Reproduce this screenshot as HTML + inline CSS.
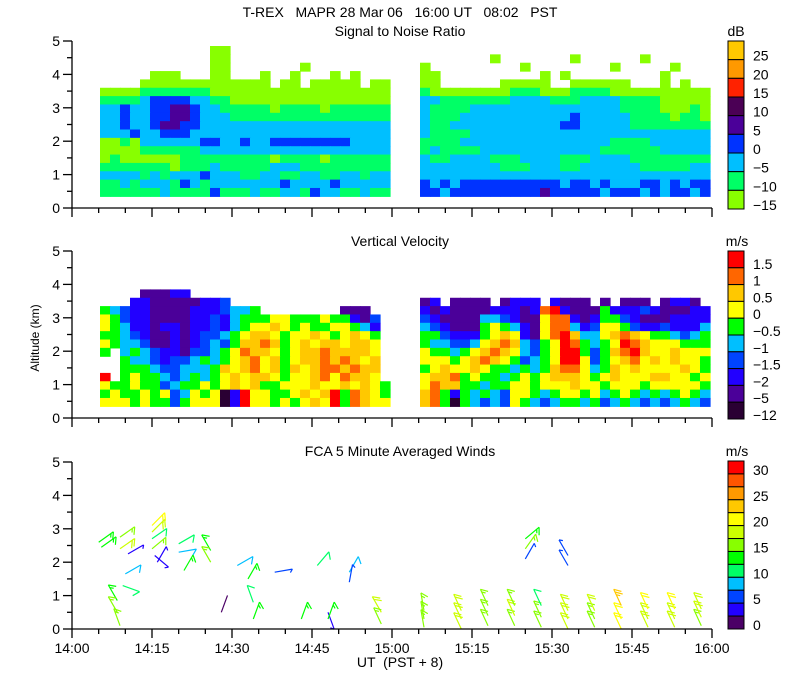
<!DOCTYPE html>
<html><head><meta charset="utf-8"><style>
html,body{margin:0;padding:0;background:#fff;}
svg{display:block;font-family:"Liberation Sans",sans-serif;}
text{font-size:14px;fill:#000;}
</style></head><body>
<svg id="chart" width="800" height="700" viewBox="0 0 800 700" xmlns="http://www.w3.org/2000/svg">
<text x="400" y="17" text-anchor="middle" style="white-space:pre">T-REX   MAPR 28 Mar 06   16:00 UT   08:02   PST</text>
<text x="400" y="36" text-anchor="middle">Signal to Noise Ratio</text>
<text x="400" y="246" text-anchor="middle">Vertical Velocity</text>
<text x="400" y="456" text-anchor="middle">FCA 5 Minute Averaged Winds</text>
<text x="736" y="36" text-anchor="middle">dB</text>
<text x="737" y="246" text-anchor="middle">m/s</text>
<text x="737" y="456" text-anchor="middle">m/s</text>
<text x="0" y="0" font-size="12" style="font-size:12px" text-anchor="middle" transform="translate(39,338) rotate(-90)">Altitude (km)</text>
<text x="400" y="667" text-anchor="middle" style="white-space:pre">UT  (PST + 8)</text>
<g id="layer"></g>
</svg>
<script>
// ---- data ----
const yTicks = [0,1,2,3,4,5];
const xTickLabels = ["14:00","14:15","14:30","14:45","15:00","15:15","15:30","15:45","16:00"];
const snrLevels = ["-15","-10","-5","0","5","10","15","20","25"];
const snrColors = ["#88ff00","#00ff66","#00bfff","#0033ff","#4b0099","#4b0055","#ff2200","#ff9900","#ffc800"];
const vvLevels = ["-12","-5","-2","-1.5","-1","-0.5","0","0.5","1","1.5"];
const vvColors = ["#2a0033","#4b0099","#2200ff","#0044ff","#00bfff","#00ff00","#ffff00","#ffc800","#ff6600","#ff0000"];
const windLevels = ["0","","5","","10","","15","","20","","25","","30"];
const windColors = ["#4b0066","#2200ff","#0044ff","#00bfff","#00ff66","#00ff00","#88ff00","#ccff00","#ffff00","#ffc800","#ff9900","#ff5500","#ff0000"];
const snrTopAlt = 4.85;
const snrRowsA = [
"...........00................",
"...........00................",
"...........00.......0........",
".....000...00...0..0...0.0...",
"....0000000000000.00.00000.00",
"00001111111000000000000000000",
"11112333322110000000000000000",
"22322334432211111011110111111",
"22322334432221111111111111111",
"22322344332222222222222222222",
"22232233322222222222222222222",
"00102222223322322333333332222",
"00001111112222222222222222222",
"01000000111111111011110111111",
"11111110111211111222111111111",
"22221212223222112211221122122",
"11212221321222222232222322222",
"11111121111311121122132211211"];
const snrRowsB = [
".............................",
".......0.......0......0......",
"0.........0........0.....0...",
"00..........0.0.........0....",
"00......00000..000000...0.0..",
"10000000011100011110000000000",
"22111111122221112222111100000",
"21111222222222222222111100010",
"21112222222222232222211110110",
"21122222222222332222211111111",
"21111222222222222222222222222",
"11112222222222222221111222222",
"12111122222222222211111122222",
"21122221112222111222211111111",
"22222222111222112222221111122",
"22222222222222222222222222222",
"32323333333333233232223323233",
"33233333333343333323332323323"];
const vvTopAlt = 4.1;
const vvRowsA = [
".............................",
"....11122....................",
"...2211111223................",
"5432211112223445........111..",
"6532211112232455566555655213.",
"6542212212232456676565566542.",
"5543211212334567765667656765.",
"6544311212343577875676776776.",
"5.45432213345687765677877776.",
"..54432334545678675677878767.",
"..55543344457678675767887877.",
"9.56554345456767765667868776.",
"65565534556567675566676676765",
"56556563465602966556767958765",
"66656553566602966565676958766"];
const vvRowsB = [
".............................",
".............................",
"12.1111.1222.2111.1.111.1221.",
"21211112221289211152223211122",
"32111144321168821255321112222",
"43211156542168842366532232224",
"55322256762168974467876554345",
"54433467874356985456987666555",
"65545678764356995357897667666",
"66656787653456996356786767665",
"56766765545457886457676666765",
"67785655456567776567666776656",
"68775545566566676656665666665",
"78525454366545665645654545654",
"78505434365434554534543434543"];
// wind barbs: time in minutes after 14:00, altitude km, speed m/s, shaft direction deg
const windTimes = [5,5.5,9,9,10.5,10,9.5,8.5,8.5,9,15,15,15,15,15.5,16,20,20,21,26,26,28,31,33,34,34,38,43,46,48,48,52,52,58,58,
 66,66,66,73,73,73,78,78,78,83,83,83,88,88,88,93,93,93,98,98,98,103,103,103,108,108,108,113,113,113,118,118,118,85,85,85,93,93];
const windAlts = [2.6,2.45,2.75,2.4,2.25,1.65,1.3,0.85,0.5,0.1,3.1,2.9,2.7,2.4,2.2,2.0,2.55,2.3,1.75,2.35,2.0,0.5,1.9,1.5,0.8,0.3,1.7,0.3,1.9,0.5,0.3,1.7,1.4,0.5,0.15,
 0.05,0.3,0.55,0.0,0.3,0.55,0.1,0.4,0.7,0.1,0.4,0.7,0.05,0.35,0.7,0.0,0.3,0.55,0.05,0.3,0.55,0.0,0.3,0.7,0.05,0.3,0.6,0.05,0.3,0.6,0.1,0.35,0.6,2.7,2.4,2.1,2.2,1.9];
const windSpeeds = [13,14,17,18,4,9,12,14,15,16,20,19,10,15,4,4,10,9,14,13,16,1,9,13,10,13,5,14,10,3,13,8,5,18,17,
 15,16,15,18,18,19,16,17,15,17,18,15,15,16,12,19,18,19,16,17,18,20,22,24,18,19,20,18,19,20,17,18,19,13,17,5,5,5];
const windDirs = [55,55,55,55,60,60,110,330,330,340,45,45,55,50,130,30,60,80,30,330,330,20,60,30,340,20,80,20,40,160,20,30,10,330,335,
 350,350,350,335,335,335,335,335,335,335,335,335,335,335,335,335,335,335,335,335,335,335,335,335,335,335,335,335,335,335,335,335,335,50,35,30,330,330];

// ---- axes helpers ----
const NS="http://www.w3.org/2000/svg";
const layer=document.getElementById('layer');
const X0=72, PXMIN=640/120, KM=33.4;
const panelY0=[208,418,629];
function xs(t){return X0+t*PXMIN;}
function ys(p,a){return panelY0[p]-a*KM;}
function mk(tag,attrs,parent){const e=document.createElementNS(NS,tag);for(const k in attrs)e.setAttribute(k,attrs[k]);(parent||layer).appendChild(e);return e;}

function heat(p,rowsA,rowsB,topAlt,colors,name){
  const g=mk('g',{});
  
  
  [[rowsA,100],[rowsB,420]].forEach(([rows,x0])=>{
    rows.forEach((row,r)=>{
      const a1=topAlt-r*0.25;
      for(let i=0;i<29;i++){
        const ch=row[i];
        if(ch===undefined||ch==='.')continue;
        const v=parseInt(ch,10);
        const c=mk('rect',{x:x0+10*i,y:ys(p,a1),width:10.6,height:0.25*KM+0.6,fill:colors[v]},g);
        
        
      }
    });
  });
}
heat(0,snrRowsA,snrRowsB,snrTopAlt,snrColors,'snr-heatmap');
heat(1,vvRowsA,vvRowsB,vvTopAlt,vvColors,'vv-heatmap');

// wind barbs
const wg=mk('g',{});


windTimes.forEach((t,i)=>{
  const sp=windSpeeds[i];
  const col=windColors[Math.max(0,Math.min(12,Math.floor(sp/2.5)))];
  const x=xs(t), y=ys(2,windAlts[i]);
  const d=windDirs[i]*Math.PI/180;
  const L=18;
  const ex=x+L*Math.sin(d), ey=y-L*Math.cos(d);
  let path=`M${x.toFixed(1)},${y.toFixed(1)}L${ex.toFixed(1)},${ey.toFixed(1)}`;
  const td=d+130*Math.PI/180;
  let rem=sp, k=0;
  while(rem>=2.5 && k<4){
    const len= rem>=7.5?8:4;
    rem-= rem>=7.5?10:5;
    const bx=ex-(k*3)*Math.sin(d), by=ey+(k*3)*Math.cos(d);
    path+=`M${bx.toFixed(1)},${by.toFixed(1)}l${(len*Math.sin(td)).toFixed(1)},${(-len*Math.cos(td)).toFixed(1)}`;
    k++;
  }
  const b=mk('path',{d:path,stroke:col,'stroke-width':1.2,fill:'none'},wg);
  
  
});

// axes
[0,1,2].forEach(p=>{
  const g=mk('g',{stroke:'#000','stroke-width':1.3,fill:'none'});
  
  
  mk('line',{x1:X0,y1:ys(p,5),x2:X0,y2:panelY0[p]},g);
  mk('line',{x1:X0,y1:panelY0[p],x2:712,y2:panelY0[p]},g);
  for(let a=0;a<=5;a+=0.5){
    const len=(a%1===0)?9:5;
    mk('line',{x1:X0-len,y1:ys(p,a),x2:X0,y2:ys(p,a)},g);
  }
  for(let t=0;t<=120;t+=5){
    const len=(t%15===0)?9:5;
    mk('line',{x1:xs(t),y1:panelY0[p],x2:xs(t),y2:panelY0[p]+len},g);
  }
  yTicks.forEach(v=>{
    const tx=mk('text',{x:60,y:ys(p,v)+5,'text-anchor':'end'});
    
    
    tx.textContent=v;
  });
});
xTickLabels.forEach((s,i)=>{
  const tx=mk('text',{x:xs(i*15),y:653,'text-anchor':'middle'});
  
  
  tx.textContent=s;
});

// colorbars
function cbar(top,bottom,colors,labels,name){
  const g=mk('g',{});
  
  
  const n=colors.length, h=(bottom-top)/n;
  for(let i=0;i<n;i++){
    const j=n-1-i;
    const yy=top+i*h;
    const r=mk('rect',{x:728,y:yy,width:16,height:h,fill:colors[j],stroke:'#000','stroke-width':1},g);
    
    
    if(labels[j]!==''){
      const t=mk('text',{x:753,y:yy+h+1,'text-anchor':'start'},g);
      
      
      t.textContent=labels[j].replace('-','\u2212');
    }
  }
}
cbar(41,209,snrColors,snrLevels,'snr-colorbar');
cbar(251,419,vvColors,vvLevels,'vv-colorbar');
cbar(461,629,windColors,windLevels,'wind-colorbar');
</script>
</body></html>
